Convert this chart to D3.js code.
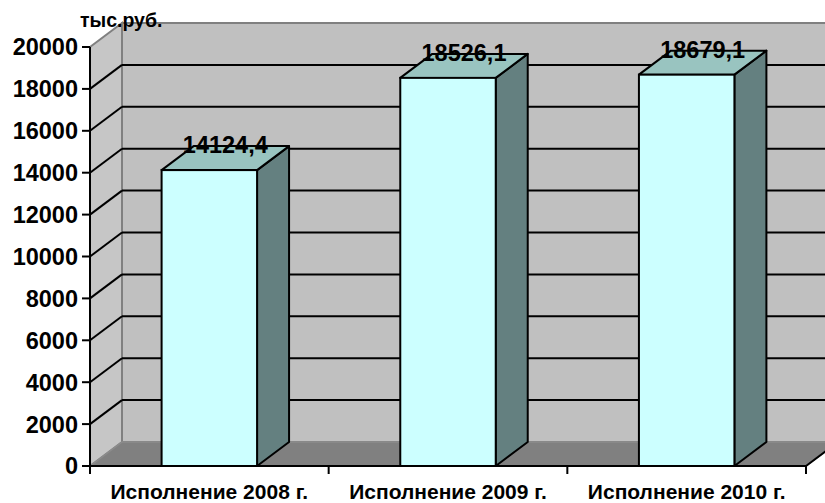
<!DOCTYPE html>
<html>
<head>
<meta charset="utf-8">
<script src="https://cdn.jsdelivr.net/npm/d3@7"></script>
<style>
  body { margin: 0; background: #fff; }
  text { font-family: Arial, "Liberation Sans", sans-serif; font-weight: bold; fill: #000; }
</style>
</head>
<body>
<svg id="chart"></svg>
<script>
// data
const categories = ["Исполнение 2008 г.", "Исполнение 2009 г.", "Исполнение 2010 г."];
const values = [14124.4, 18526.1, 18679.1];
const yTicks = [0, 2000, 4000, 6000, 8000, 10000, 12000, 14000, 16000, 18000, 20000];
const unitLabel = "тыс.руб.";

const W = 825, H = 503;
const plotLeft = 90, plotRight = 806, plotBottom = 466, plotTop = 47;
// 3d depth offset
const dx = 32, dy = -24;

const svg = d3.select("#chart").attr("width", W).attr("height", H);

const y = d3.scaleLinear().domain([0, 20000]).range([plotBottom, plotTop]);
const x = d3.scaleBand().domain(categories).range([plotLeft, plotRight])
    .paddingInner(0.6).paddingOuter(0.3);

const pts = p => p.map(d => d.join(",")).join(" ");
const yMax = y(20000);

// left side wall
svg.append("polygon")
    .attr("points", pts([[plotLeft, yMax], [plotLeft + dx, yMax + dy], [plotLeft + dx, plotBottom + dy], [plotLeft, plotBottom]]))
    .attr("fill", "#c6c6c6").attr("stroke", "#808080").attr("stroke-width", 2);

// back wall
svg.append("rect")
    .attr("x", plotLeft + dx).attr("y", yMax + dy)
    .attr("width", plotRight - plotLeft).attr("height", plotBottom - yMax)
    .attr("fill", "#c0c0c0").attr("stroke", "#808080").attr("stroke-width", 2);

// gridlines (left wall diagonal + back wall horizontal)
const grid = yTicks.filter(v => v > 0 && v < 20000);
svg.selectAll(".gl").data(grid).join("line")
    .attr("x1", plotLeft).attr("y1", d => y(d))
    .attr("x2", plotLeft + dx).attr("y2", d => y(d) + dy)
    .attr("stroke", "#000").attr("stroke-width", 2);
svg.selectAll(".gb").data(grid).join("line")
    .attr("x1", plotLeft + dx).attr("y1", d => y(d) + dy)
    .attr("x2", plotRight + dx).attr("y2", d => y(d) + dy)
    .attr("stroke", "#000").attr("stroke-width", 2);

// floor
svg.append("polygon")
    .attr("points", pts([[plotLeft, plotBottom], [plotLeft + dx, plotBottom + dy], [plotRight + dx, plotBottom + dy], [plotRight, plotBottom]]))
    .attr("fill", "#808080").attr("stroke", "#8c8c8c").attr("stroke-width", 1.5);
svg.append("line")
    .attr("x1", plotRight).attr("y1", plotBottom).attr("x2", plotRight + dx).attr("y2", plotBottom + dy)
    .attr("stroke", "#000").attr("stroke-width", 2);

// y axis
svg.append("line")
    .attr("x1", plotLeft).attr("y1", yMax).attr("x2", plotLeft).attr("y2", plotBottom + 8)
    .attr("stroke", "#000").attr("stroke-width", 2);
svg.selectAll(".yt").data(yTicks).join("line")
    .attr("x1", plotLeft - 8).attr("x2", plotLeft)
    .attr("y1", d => y(d)).attr("y2", d => y(d))
    .attr("stroke", "#000").attr("stroke-width", 2);
svg.selectAll(".yl").data(yTicks).join("text")
    .attr("x", plotLeft - 12).attr("y", d => y(d)).attr("dy", "0.36em")
    .attr("text-anchor", "end").attr("font-size", 23.5)
    .text(d => d);

// x axis
svg.append("line")
    .attr("x1", plotLeft).attr("y1", plotBottom).attr("x2", plotRight).attr("y2", plotBottom)
    .attr("stroke", "#000").attr("stroke-width", 2);
const step = x.step();
const bounds = d3.range(categories.length + 1).map(i => plotLeft + i * step);
svg.selectAll(".xt").data(bounds).join("line")
    .attr("x1", d => d).attr("x2", d => d)
    .attr("y1", plotBottom).attr("y2", plotBottom + 8)
    .attr("stroke", "#000").attr("stroke-width", 2);

// bars
const bw = x.bandwidth();
const bars = svg.selectAll(".bar").data(values).join("g").attr("class", "bar");
bars.append("polygon")  // side
    .attr("points", (d, i) => {
      const x1 = x(categories[i]) + bw, yt = y(d);
      return pts([[x1, yt], [x1 + dx, yt + dy], [x1 + dx, plotBottom + dy], [x1, plotBottom]]);
    })
    .attr("fill", "#648080").attr("stroke", "#000").attr("stroke-width", 2)
    .attr("stroke-linejoin", "round");
bars.append("polygon")  // top
    .attr("points", (d, i) => {
      const x0 = x(categories[i]), yt = y(d);
      return pts([[x0, yt], [x0 + dx, yt + dy], [x0 + bw + dx, yt + dy], [x0 + bw, yt]]);
    })
    .attr("fill", "#99c4c0").attr("stroke", "#000").attr("stroke-width", 2)
    .attr("stroke-linejoin", "round");
bars.append("rect")  // front
    .attr("x", (d, i) => x(categories[i]))
    .attr("y", d => y(d))
    .attr("width", bw)
    .attr("height", d => plotBottom - y(d))
    .attr("fill", "#ccffff").attr("stroke", "#000").attr("stroke-width", 2);

// value labels
const fmt = d3.format(".1f");
svg.selectAll(".vl").data(values).join("text")
    .attr("x", (d, i) => x(categories[i]) + bw / 2 + dx / 2)
    .attr("y", d => y(d) - 17)
    .attr("text-anchor", "middle").attr("font-size", 23.5)
    .text(d => fmt(d).replace(".", ","));

// category labels
svg.selectAll(".cl").data(categories).join("text")
    .attr("x", d => x(d) + bw / 2)
    .attr("y", 499)
    .attr("text-anchor", "middle").attr("font-size", 21)
    .text(d => d);

// unit label
svg.append("text")
    .attr("x", 80).attr("y", 27)
    .attr("font-size", 19.5)
    .text(unitLabel);
</script>
</body>
</html>
